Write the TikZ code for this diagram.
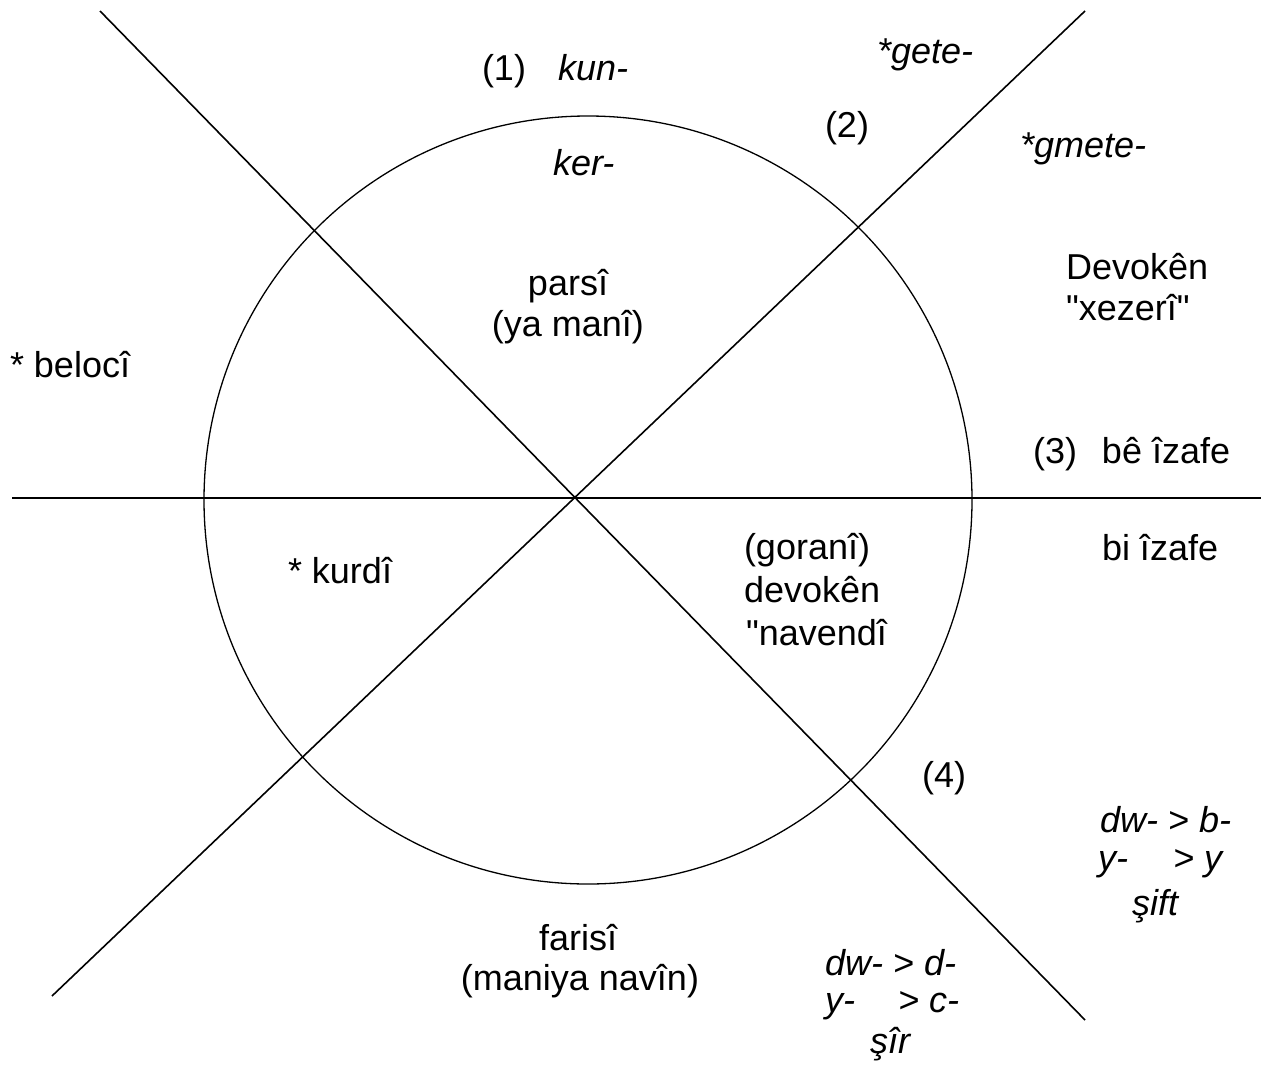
\documentclass[tikz,border=0pt]{standalone}
\usepackage{fontspec}
\setmainfont{Liberation Sans}
\newcommand\sq{\XeTeXglyph\XeTeXcharglyph"22\relax}
\begin{document}
\begin{tikzpicture}[x=1pt,y=-1pt,
  lbl/.style={anchor=base west,inner sep=0pt,outer sep=0pt,font=\fontsize{36}{42}\selectfont},
  ilbl/.style={lbl,font=\fontsize{36}{42}\selectfont\itshape},
  axis/.style={line width=1.6pt,black},
  ring/.style={line width=1.3pt,black}]
\useasboundingbox (0,0) rectangle (1263,1068);
% lines
\coordinate (d1a) at (100,11);
\coordinate (d1b) at (1085,1020);
\coordinate (d2a) at (1085,11);
\coordinate (d2b) at (52,996);
\coordinate (ha) at (12,498);
\coordinate (hb) at (1261,498);
\draw[axis] (d1a) -- (d1b);
\draw[axis] (d2a) -- (d2b);
\draw[axis] (ha) -- (hb);
\coordinate (cc) at (588,500);
\draw[ring] (cc) circle[radius=384pt];
% labels
\node[lbl] (n1) at (482,80) {(1)};
\node[ilbl] (kun) at (558,80) {kun-};
\node[ilbl] (ker) at (553,175) {ker-};
\node[ilbl] (gete) at (877,63) {*gete-};
\node[lbl] (n2) at (825,137) {(2)};
\node[ilbl] (gmete) at (1020,157) {*gmete-};
\node[lbl] (dev1) at (1066,279) {Devokên};
\node[lbl] (xez) at (1066,320) {\sq xezerî\sq};
\node[lbl,anchor=base] (parsi) at (568,295) {parsî};
\node[lbl,anchor=base] (mani) at (568,336) {(ya manî)};
\node[lbl] (beloci) at (10,377) {* belocî};
\node[lbl] (n3) at (1033,463) {(3)\hspace{15pt} bê îzafe};
\node[lbl] (biiz) at (1102,560) {bi îzafe};
\node[lbl] (kurdi) at (288,583) {* kurdî};
\node[lbl] (gor) at (744,559) {(goranî)};
\node[lbl] (dev2) at (744,602) {devokên};
\node[lbl] (nav) at (746,645) {\sq navendî};
\node[lbl] (n4) at (922,787) {(4)};
\node[ilbl] (dwb) at (1100,832) {dw- > b-};
\node[ilbl] (yy) at (1098,870) {y-};
\node[ilbl] (yy2) at (1173,870) {> y};
\node[ilbl] (sift) at (1132,915) {şift};
\node[lbl,anchor=base] (farisi) at (578,950) {farisî};
\node[lbl,anchor=base] (navin) at (580,990) {(maniya navîn)};
\node[ilbl] (dwd) at (825,975) {dw- > d-};
\node[ilbl] (yc) at (825,1012) {y-};
\node[ilbl] (yc2) at (898,1012) {> c-};
\node[ilbl] (sir) at (870,1053) {şîr};
\end{tikzpicture}
\end{document}
